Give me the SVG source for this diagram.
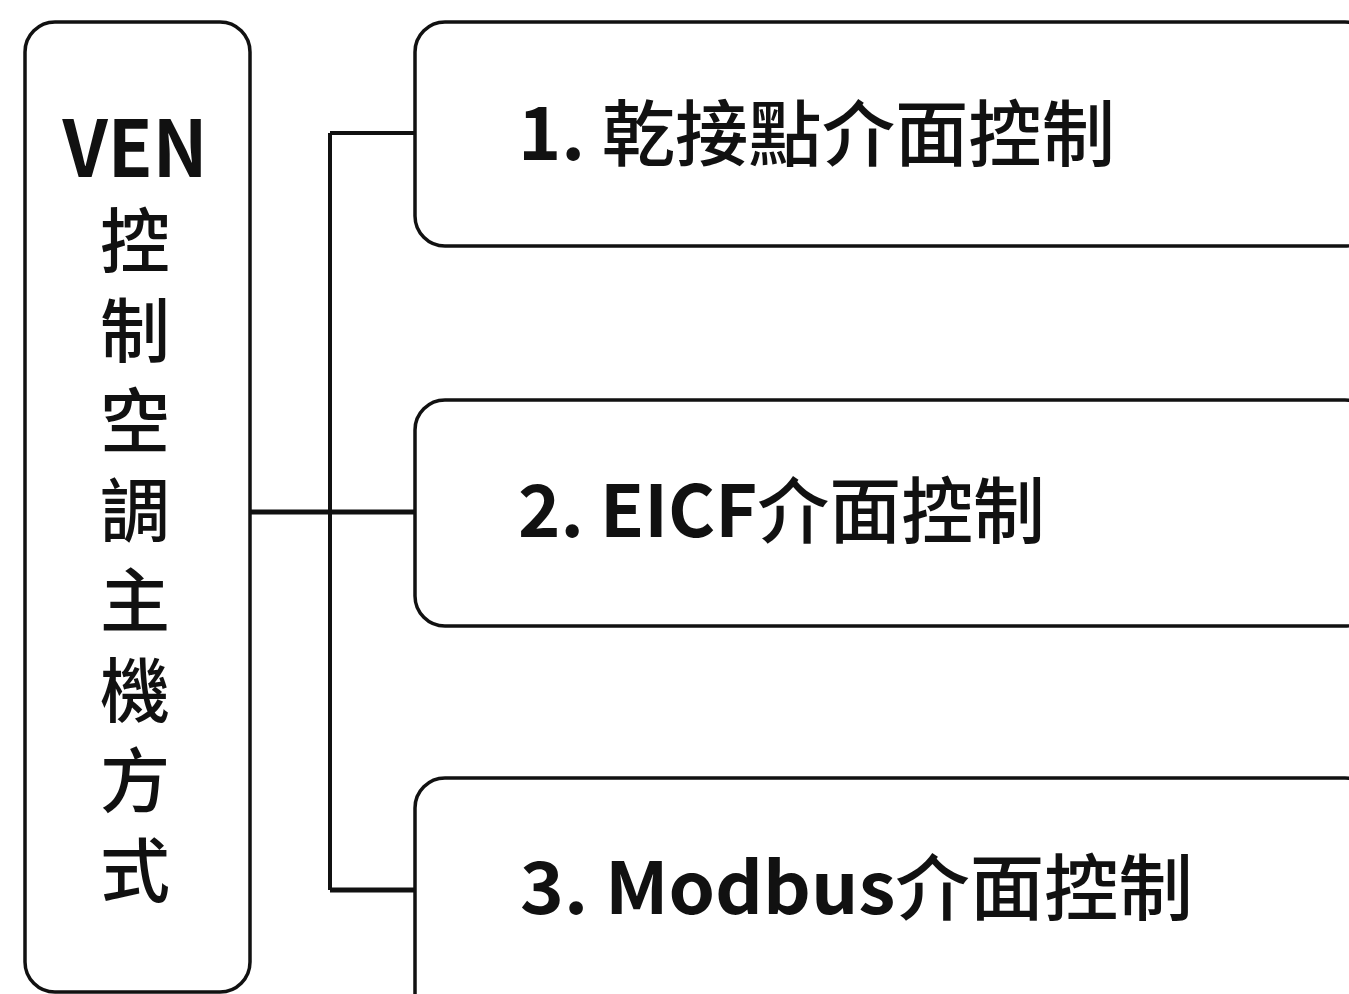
<svg xmlns="http://www.w3.org/2000/svg" width="1349" height="994" viewBox="0 0 1349 994">
  <style>
    .box { fill: #ffffff; stroke: #111111; stroke-width: 3.5; }
    .wire { fill: none; stroke: #111111; stroke-width: 4; }
    .main { stroke-width: 5; }
    .lat { font-family: "Noto Sans CJK TC", "Noto Sans", sans-serif; font-weight: 700; fill: #111111; }
    .cjk { font-family: "Noto Sans CJK TC", sans-serif; font-weight: 500; fill: #111111; }
    .label { font-size: 72px; }
  </style>
  <rect width="1349" height="994" fill="#ffffff"/>

  <!-- connectors -->
  <g id="connectors">
    <path class="wire main" d="M250 512 H330"/>
    <path class="wire" d="M330 133 V890"/>
    <path class="wire" d="M330 133 H415"/>
    <path class="wire main" d="M330 512 H415"/>
    <path class="wire main" d="M330 890 H415"/>
  </g>

  <!-- root node: vertical title -->
  <g id="node-ven">
    <rect class="box" x="25" y="22" width="225" height="970" rx="30" ry="30"/>
    <text class="lat" x="135" y="177" font-size="78" text-anchor="middle" textLength="145" lengthAdjust="spacingAndGlyphs">VEN</text>
    <text class="cjk" x="135" y="205" font-size="70" writing-mode="vertical-rl" letter-spacing="20">控制空調主機方式</text>
  </g>

  <!-- option 1 -->
  <g id="node-dry-contact">
    <rect class="box" x="415" y="22" width="960" height="224" rx="30" ry="30"/>
    <text class="label" x="518" y="160" textLength="597" lengthAdjust="spacingAndGlyphs"><tspan class="lat">1. </tspan><tspan class="cjk">乾接點介面控制</tspan></text>
  </g>

  <!-- option 2 -->
  <g id="node-eicf">
    <rect class="box" x="415" y="400" width="960" height="226" rx="30" ry="30"/>
    <text class="label" x="518" y="537" textLength="527" lengthAdjust="spacingAndGlyphs"><tspan class="lat">2. EICF</tspan><tspan class="cjk">介面控制</tspan></text>
  </g>

  <!-- option 3 -->
  <g id="node-modbus">
    <rect class="box" x="415" y="778" width="960" height="260" rx="30" ry="30"/>
    <text class="label" x="520" y="914" textLength="673" lengthAdjust="spacingAndGlyphs"><tspan class="lat">3. Modbus</tspan><tspan class="cjk">介面控制</tspan></text>
  </g>
</svg>
